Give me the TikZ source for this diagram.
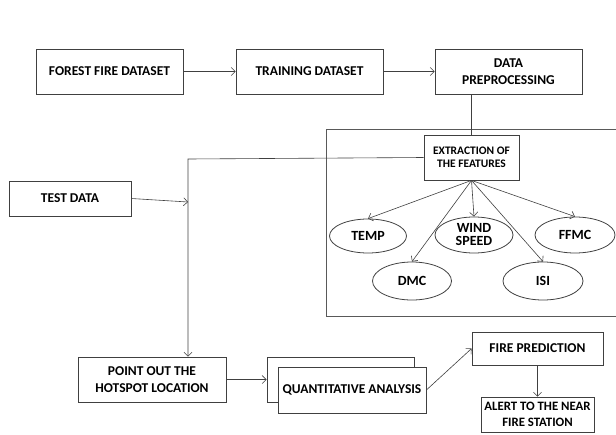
\documentclass[tikz,border=0pt]{standalone}
\usepackage{fontspec}
\setmainfont{Carlito}
\usetikzlibrary{arrows.meta,shapes.geometric}
\begin{document}
\begin{tikzpicture}[x=1pt,y=-1pt,
  box/.style={draw=black!75,line width=0.8pt,inner sep=0pt,align=center,font=\bfseries\fontsize{13.5}{17}\selectfont},
  oval/.style={draw=black!75,line width=0.8pt,ellipse,inner sep=0pt,align=center,font=\bfseries\fontsize{14}{13}\selectfont},
  arr/.style={draw=black!75,line width=0.6pt,-{Straight Barb[length=4pt,width=8pt]}}]
  \useasboundingbox(0,0)rectangle(616,434);
  % frame round the features
  \draw[black!65,line width=0.9pt](626,129)--(326,129)--(326,316)--(626,316);
  \node[box,minimum width=147pt,minimum height=45pt](ffd)at(109.5,71.5){FOREST FIRE DATASET};
  \node[box,minimum width=147pt,minimum height=45pt](td)at(309.5,71.5){TRAINING DATASET};
  \node[box,minimum width=147pt,minimum height=45pt](dp)at(508.5,71.5){DATA\\PREPROCESSING};
  \node[box,minimum width=95pt,minimum height=45pt,font=\bfseries\fontsize{11.5}{13.5}\selectfont](ext)at(471.5,157.5){EXTRACTION OF\\THE FEATURES};
  \node[oval,minimum width=77pt,minimum height=34pt](temp)at(368,236){TEMP};
  \node[oval,minimum width=78pt,minimum height=36pt](wind)at(474,235){WIND\\SPEED};
  \node[oval,minimum width=80pt,minimum height=36pt](ffmc)at(575,235){FFMC};
  \node[oval,minimum width=79pt,minimum height=38pt](dmc)at(412,281){DMC};
  \node[oval,minimum width=80pt,minimum height=38pt](isi)at(543,281){ISI};
  \node[box,minimum width=122pt,minimum height=35pt](test)at(70,198.5){TEST DATA};
  \node[box,minimum width=148pt,minimum height=45pt](hot)at(152,379.5){POINT OUT THE\\HOTSPOT LOCATION};
  \node[box,minimum width=147pt,minimum height=45pt](qaback)at(340.5,379.5){};
  \node[box,fill=white,minimum width=148pt,minimum height=46pt](qa)at(352,390){QUANTITATIVE ANALYSIS};
  \node[box,minimum width=131pt,minimum height=33pt](fp)at(537.5,348.5){FIRE PREDICTION};
  \node[box,minimum width=113pt,minimum height=35pt,font=\bfseries\fontsize{12.8}{16}\selectfont](alert)at(537.5,414.5){ALERT TO THE NEAR\\FIRE STATION};
  \coordinate(bend)at(188,159);
  \coordinate(testin)at(188,202);
  \draw[arr](ffd)--(td);
  \draw[arr](td)--(dp);
  \draw[black!75,line width=0.6pt](dp.south-|ext.north)--(ext.north);
  \draw[arr](ext.west)--(bend)--(bend|-hot.north);
  \draw[arr](test.east)--(testin);
  \foreach \f in {temp,wind,ffmc,dmc,isi}
    \draw[arr](ext.south)--(\f.north);
  \draw[arr](hot)--(qaback);
  \draw[arr](qa.east)--(fp.west);
  \draw[arr](fp.south-|alert.north)--(alert.north);
\end{tikzpicture}
\end{document}
